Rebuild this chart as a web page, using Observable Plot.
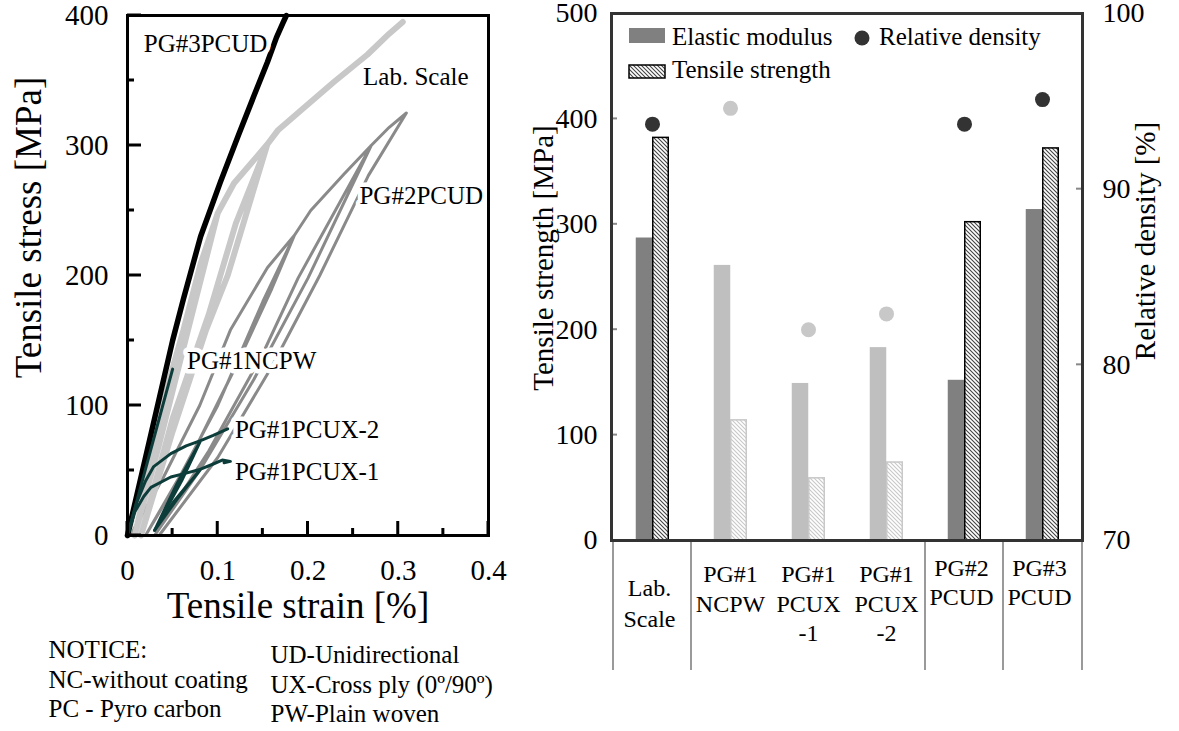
<!DOCTYPE html>
<html><head><meta charset="utf-8">
<script src="https://cdn.jsdelivr.net/npm/d3@7"></script>
<script src="https://cdn.jsdelivr.net/npm/@observablehq/plot@0.6"></script>
<style>
body{margin:0;background:#fff;}
#wrap{position:relative;width:1179px;height:731px;overflow:hidden;background:#fff;}
#left{position:absolute;left:0;top:0;}
#right{position:absolute;left:500px;top:0;}
</style></head><body><div id="wrap"><div id="left"></div><div id="right"></div></div>
<script>
const FONT = "'Liberation Serif','Times New Roman',Times,serif";
const NS = "http://www.w3.org/2000/svg";

// ---------------- LEFT PANEL DATA ----------------
const strainTicks = [0, 0.1, 0.2, 0.3, 0.4];
const strainMinor = [0.05, 0.15, 0.25, 0.35];
const stressTicks = [0, 100, 200, 300, 400];
const stressMinor = [50, 150, 250, 350];

const pg3pcud = [[0,0],[0.025,75],[0.05,150],[0.062,182],[0.081,230],[0.103,272],[0.123,308],[0.14,338],[0.155,364],[0.165,383],[0.172,394],[0.176,400]];
const labScale = [[0,0],[0.03,80],[0.062,158],[0.081,209],[0.1,248],
  [0.067,158],[0.035,70],[0.008,0],
  [0.04,95],[0.075,185],[0.1,248],
  [0.118,271],[0.144,292],[0.155,301],
  [0.111,200],[0.087,158],[0.05,80],[0.015,0],
  [0.05,90],[0.09,170],[0.12,240],[0.155,301],
  [0.167,312],[0.192,327],[0.229,349],[0.266,370],[0.29,386],[0.305,395]];
const pg2pcud = [[0.003,0],[0.04,45],[0.08,100],[0.114,158],[0.155,206],[0.185,231],
  [0.15,180],[0.1,100],[0.05,35],[0.02,0],
  [0.07,60],[0.12,130],[0.16,190],[0.185,231],[0.203,250],[0.24,278],[0.27,300],
  [0.2,198],[0.14,120],[0.08,50],[0.03,0],
  [0.09,65],[0.15,140],[0.189,198],[0.27,300],[0.29,314],[0.309,325],
  [0.267,277],[0.213,200],[0.16,130],[0.1,60],[0.035,0]];
const pg1ncpw = [[0,0],[0.05,128]];
const pg1pcux1 = [[0,0],[0.008,18],[0.018,30],[0.026,37],[0.048,45],[0.065,48],[0.081,51],[0.05,25],[0.03,4],[0.055,28],[0.081,51],[0.095,55],[0.105,58],[0.114,57],[0.107,56]];
const pg1pcux2 = [[0,0],[0.01,25],[0.02,42],[0.029,53],[0.048,63],[0.065,69],[0.081,73],[0.055,40],[0.03,4],[0.06,42],[0.081,73],[0.095,77],[0.111,82]];

const curveLabels = [
  {text: "PG#3PCUD", strain: 0.018, stress: 378},
  {text: "Lab. Scale", strain: 0.261, stress: 353},
  {text: "PG#2PCUD", strain: 0.257, stress: 261},
  {text: "PG#1NCPW", strain: 0.066, stress: 134},
  {text: "PG#1PCUX-2", strain: 0.119, stress: 81},
  {text: "PG#1PCUX-1", strain: 0.119, stress: 49}
];
const noticeLeft = ["NOTICE:", "NC-without coating", "PC - Pyro carbon"];
const noticeRight = ["UD-Unidirectional", "UX-Cross ply (0º/90º)", "PW-Plain woven"];

const toRows = (name, pts) => pts.map(([strain, stress]) => ({series: name, strain, stress}));

// ---------------- RIGHT PANEL DATA ----------------
const categories = ["Lab. Scale", "PG#1 NCPW", "PG#1 PCUX-1", "PG#1 PCUX-2", "PG#2 PCUD", "PG#3 PCUD"];
const catLabels = ["Lab.\nScale", "PG#1\nNCPW", "PG#1\nPCUX\n-1", "PG#1\nPCUX\n-2", "PG#2\nPCUD", "PG#3\nPCUD"];
const groups = ["Lab", "PG#1", "PG#1", "PG#1", "PG#2", "PG#3"];
const elastic = [287, 261, 149, 183, 152, 314];
const tensile = [382, 114, 59, 74, 302, 372];
const density = [93.7, 94.6, 82.0, 82.9, 93.7, 95.1];
const strengthTicks = [0, 100, 200, 300, 400, 500];
const densityTicks = [70, 80, 90, 100];
const legendLabels = ["Elastic modulus", "Relative density", "Tensile strength"];

const toS = d => (d - 70) / 30 * 500;
const fromS = s => 70 + s / 500 * 30;

const rows = categories.map((cat, i) => ({cat, label: catLabels[i], group: groups[i], elastic: elastic[i], tensile: tensile[i], density: density[i]}));
const faded = d => d.group === "PG#1";
const solid = d => d.group !== "PG#1";

// ---------------- helpers ----------------
function el(tag, attrs, parent) {
  const e = document.createElementNS(NS, tag);
  for (const k in attrs) e.setAttribute(k, attrs[k]);
  if (parent) parent.appendChild(e);
  return e;
}
function inwardTicks(axis, values, len, side, stroke, strokeWidth) {
  return (index, scales, vals, dims) => {
    const g = el("g", {stroke, "stroke-width": strokeWidth});
    for (const v of values) {
      if (axis === "y") {
        const y = scales.y(v);
        const x0 = side === "right" ? dims.width - dims.marginRight : dims.marginLeft;
        const x1 = side === "right" ? x0 - len : x0 + len;
        el("line", {x1: x0, x2: x1, y1: y, y2: y}, g);
      } else {
        const x = scales.x(v);
        const y0 = dims.height - dims.marginBottom;
        el("line", {x1: x, x2: x, y1: y0, y2: y0 - len}, g);
      }
    }
    return g;
  };
}

// ---------------- LEFT PLOT ----------------
const left = Plot.plot({
  width: 500, height: 731,
  marginLeft: 127, marginRight: 12, marginTop: 15, marginBottom: 196,
  style: {fontFamily: FONT, fontSize: "29px", background: "white", overflow: "visible", color: "black"},
  x: {domain: [0, 0.4]},
  y: {domain: [0, 400]},
  marks: [
    Plot.line(toRows("PG#2PCUD", pg2pcud), {x: "strain", y: "stress", stroke: "#8a8a8a", strokeWidth: 3, strokeLinejoin: "round", strokeLinecap: "round"}),
    Plot.line(toRows("Lab. Scale", labScale), {x: "strain", y: "stress", stroke: "#c8c8c8", strokeWidth: 6, strokeLinejoin: "round", strokeLinecap: "round"}),
    Plot.line(toRows("PG#3PCUD", pg3pcud), {x: "strain", y: "stress", stroke: "black", strokeWidth: 5.5, strokeLinejoin: "round", strokeLinecap: "round"}),
    Plot.text(curveLabels, {x: "strain", y: "stress", text: "text", textAnchor: "start", fontSize: 25, fontFamily: FONT, fill: "black", stroke: "white", strokeWidth: 9}),
    Plot.line([...toRows("PG#1NCPW", pg1ncpw), ...toRows("PG#1PCUX-1", pg1pcux1), ...toRows("PG#1PCUX-2", pg1pcux2)],
      {x: "strain", y: "stress", z: "series", stroke: "#0d3d3a", strokeWidth: 3, strokeLinejoin: "round", strokeLinecap: "round"}),
    inwardTicks("y", stressTicks, 14, "left", "black", 3),
    inwardTicks("y", stressMinor, 7, "left", "black", 3),
    inwardTicks("x", strainTicks, 14, "bottom", "black", 3),
    inwardTicks("x", strainMinor, 7, "bottom", "black", 3),
    Plot.frame({stroke: "black", strokeWidth: 3}),
    Plot.axisX({ticks: strainTicks, tickSize: 0, tickPadding: 24, tickFormat: d => String(d), fontSize: 29, fontFamily: FONT, label: null}),
    Plot.axisY({ticks: stressTicks, tickSize: 0, tickPadding: 19, tickFormat: d => String(d), fontSize: 29, fontFamily: FONT, label: null}),
    Plot.text(["Tensile strain [%]"], {text: d => d, frameAnchor: "bottom", textAnchor: "middle", lineAnchor: "middle", dx: -10, dy: 71, fontSize: 37, fontFamily: FONT}),
    Plot.text(["Tensile stress [MPa]"], {text: d => d, frameAnchor: "left", textAnchor: "middle", lineAnchor: "middle", rotate: -90, dx: -98, dy: -48, fontSize: 37, fontFamily: FONT}),
    Plot.text([noticeLeft.join("\n")], {text: d => d, frameAnchor: "bottom-left", textAnchor: "start", lineAnchor: "top", lineHeight: 1.18, dx: 48 - 127, dy: 102, fontSize: 25, fontFamily: FONT}),
    Plot.text([noticeRight.join("\n")], {text: d => d, frameAnchor: "bottom-left", textAnchor: "start", lineAnchor: "top", lineHeight: 1.18, dx: 270 - 127, dy: 107, fontSize: 25, fontFamily: FONT})
  ]
});
document.getElementById("left").appendChild(left);

// ---------------- RIGHT PLOT ----------------
const RW = 679, RML = 111, RMR = 97;
const bw = (RW - RML - RMR) / categories.length;

function defsMark() {
  const defs = el("defs", {});
  const mk = (id, color) => {
    const p = el("pattern", {id, patternUnits: "userSpaceOnUse", width: 4, height: 4}, defs);
    el("rect", {width: 4, height: 4, fill: "white"}, p);
    el("path", {d: "M-1,-1L5,5M-1,3L1,5M3,-1L5,1", stroke: color, "stroke-width": 1.1}, p);
  };
  mk("hatchDark", "#444");
  mk("hatchLight", "#c8c8c8");
  return defs;
}
function separators(index, scales, vals, dims) {
  const g = el("g", {stroke: "#9a9a9a", "stroke-width": 2});
  const y0 = dims.height - dims.marginBottom;
  const xs = [];
  categories.forEach((c, i) => { if (i === 0 || groups[i] !== groups[i - 1]) xs.push(scales.x(c)); });
  xs.push(dims.width - dims.marginRight);
  for (const x of xs) el("line", {x1: x, x2: x, y1: y0, y2: y0 + 130}, g);
  return g;
}
function legendMark(index, scales, vals, dims) {
  const g = el("g", {"font-size": 25, "font-family": FONT, "text-anchor": "start", fill: "black"});
  const x0 = dims.marginLeft, y0 = dims.marginTop;
  el("rect", {x: x0 + 18, y: y0 + 15, width: 36, height: 15, fill: "#808080"}, g);
  const t1 = el("text", {x: x0 + 61, y: y0 + 32}, g); t1.textContent = legendLabels[0];
  el("circle", {cx: x0 + 251, cy: y0 + 25, r: 7.5, fill: "#333"}, g);
  const t2 = el("text", {x: x0 + 268, y: y0 + 32}, g); t2.textContent = legendLabels[1];
  el("rect", {x: x0 + 18, y: y0 + 52, width: 36, height: 13, fill: "url(#hatchDark)", stroke: "black", "stroke-width": 1.5}, g);
  const t3 = el("text", {x: x0 + 61, y: y0 + 65}, g); t3.textContent = legendLabels[2];
  return g;
}

const right = Plot.plot({
  width: RW, height: 700,
  marginLeft: RML, marginRight: RMR, marginTop: 13, marginBottom: 160,
  style: {fontFamily: FONT, fontSize: "28px", background: "transparent", overflow: "visible", color: "black"},
  x: {domain: categories, padding: 0, axis: null},
  y: {domain: [0, 500]},
  marks: [
    defsMark,
    separators,
    Plot.barY(rows.filter(solid), {x: "cat", y: "elastic", fill: "#808080", insetLeft: bw / 2 - 16.5, insetRight: bw / 2 - 0.5}),
    Plot.barY(rows.filter(faded), {x: "cat", y: "elastic", fill: "#bfbfbf", insetLeft: bw / 2 - 16.5, insetRight: bw / 2 - 0.5}),
    Plot.barY(rows.filter(solid), {x: "cat", y: "tensile", fill: "url(#hatchDark)", stroke: "black", strokeWidth: 1.5, insetLeft: bw / 2 + 0.5, insetRight: bw / 2 - 16.5}),
    Plot.barY(rows.filter(faded), {x: "cat", y: "tensile", fill: "url(#hatchLight)", stroke: "#c8c8c8", strokeWidth: 1.5, insetLeft: bw / 2 + 0.5, insetRight: bw / 2 - 16.5}),
    Plot.dot(rows.filter(solid), {x: "cat", y: d => toS(d.density), r: 7.5, fill: "#333", stroke: null}),
    Plot.dot(rows.filter(faded), {x: "cat", y: d => toS(d.density), r: 7.5, fill: "#c8c8c8", stroke: null}),
    inwardTicks("y", strengthTicks.slice(1, -1), 6, "left", "#888", 2),
    inwardTicks("y", densityTicks.slice(1, -1).map(toS), 6, "right", "#888", 2),
    Plot.frame({stroke: "#333", strokeWidth: 3}),
    Plot.axisY({ticks: strengthTicks, anchor: "left", tickSize: 0, tickPadding: 14, tickFormat: d => String(d), fontSize: 28, fontFamily: FONT, label: null}),
    Plot.axisY({ticks: densityTicks.map(toS), anchor: "right", tickSize: 0, tickPadding: 20, tickFormat: s => String(Math.round(fromS(s))), fontSize: 28, fontFamily: FONT, label: null}),
    Plot.text(["Tensile strength [MPa]"], {text: d => d, frameAnchor: "left", textAnchor: "middle", lineAnchor: "middle", rotate: -90, dx: -68, dy: -19, fontSize: 29, fontFamily: FONT}),
    Plot.text(["Relative density [%]"], {text: d => d, frameAnchor: "right", textAnchor: "middle", lineAnchor: "middle", rotate: -90, dx: 63, dy: -36, fontSize: 29, fontFamily: FONT}),
    Plot.text(rows.filter(d => d.group === "Lab"), {x: "cat", text: "label", frameAnchor: "bottom", textAnchor: "middle", lineAnchor: "top", lineHeight: 1.29, dx: -3, dy: 34, fontSize: 24, fontFamily: FONT}),
    Plot.text(rows.filter(d => d.group === "PG#1"), {x: "cat", text: "label", frameAnchor: "bottom", textAnchor: "middle", lineAnchor: "top", lineHeight: 1.23, dy: 21, fontSize: 24, fontFamily: FONT}),
    Plot.text(rows.filter(d => d.group === "PG#2" || d.group === "PG#3"), {x: "cat", text: "label", frameAnchor: "bottom", textAnchor: "middle", lineAnchor: "top", lineHeight: 1.17, dx: -3, dy: 16, fontSize: 24, fontFamily: FONT}),
    legendMark
  ]
});
document.getElementById("right").appendChild(right);
</script>
</body></html>
